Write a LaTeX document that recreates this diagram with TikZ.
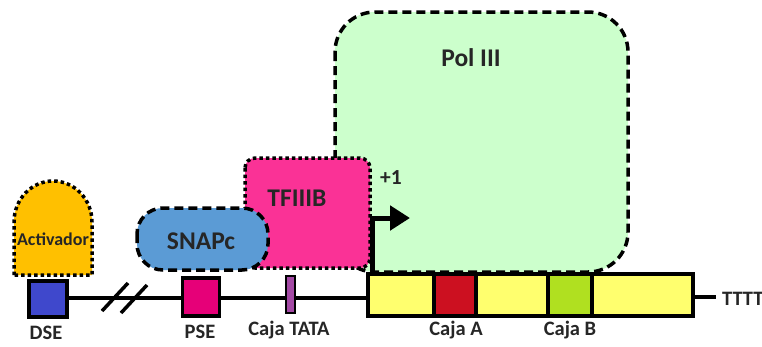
\documentclass[tikz,border=0pt]{standalone}
\usepackage{fontspec}
\setmainfont{Carlito}
\usetikzlibrary{arrows.meta}
\definecolor{polgreen}{RGB}{204,255,204}
\definecolor{tfpink}{RGB}{250,50,150}
\definecolor{snapblue}{RGB}{91,155,213}
\definecolor{actorange}{RGB}{255,192,0}
\definecolor{dseblue}{RGB}{63,72,204}
\definecolor{psepink}{RGB}{230,0,120}
\definecolor{tatapurple}{RGB}{163,73,164}
\definecolor{dnayellow}{RGB}{255,255,110}
\definecolor{boxared}{RGB}{204,16,32}
\definecolor{boxbgreen}{RGB}{176,224,32}
\tikzset{
  dashborder/.style={draw=black, line width=3.5pt, dash pattern=on 9pt off 5pt},
  dotborder/.style={draw=black, line width=3.5pt, dash pattern=on 3.5pt off 3pt},
  solidbox/.style={draw=black, line width=3.5pt},
  lbl/.style={font=\bfseries\fontsize{20.5}{22}\selectfont, text=black!85, inner sep=1pt},
  biglbl/.style={font=\bfseries\fontsize{25.5}{28}\selectfont, text=black!85},
  dnaline/.style={draw=black, line width=3.5pt}
}
\begin{document}
\begin{tikzpicture}[x=1pt,y=-1pt]
\useasboundingbox (0,0) rectangle (762,346);
% Pol III
\path[fill=polgreen, dashborder, rounded corners=40pt] (335,12) rectangle (628,272);
\node[biglbl] (pol) at (471,58) {Pol III};
% TFIIIB
\path[fill=tfpink, dotborder, rounded corners=10pt] (245,158) rectangle (370,268);
\node[biglbl] (tf) at (297,198) {TFIIIB};
% SNAPc
\path[fill=snapblue, dashborder, rounded corners=26pt] (137,208) rectangle (268,270);
\node[biglbl] (snap) at (201,241) {SNAPc};
% Activador
\path[fill=actorange, dotborder] (14,275) -- (14,222) arc[start angle=180, end angle=360, x radius=39, y radius=41] -- (92,275) -- cycle;
\node[lbl, font=\bfseries\fontsize{18}{20}\selectfont] (act) at (53,239) {Activador};
% +1 arrow
\coordinate (tss) at (372,272);
\coordinate (tssup) at (372,218);
\coordinate (tip) at (410,218);
\draw[line width=5pt, -{Triangle[length=20pt,width=24pt]}] (tss) -- (tssup) -- (tip);
\node[lbl, font=\bfseries\fontsize{21.5}{24}\selectfont] (plus) at (391,178) {+1};
% DNA line
\coordinate (lineL) at (68,298);
\coordinate (lineR) at (368,298);
\draw[dnaline] (lineL) -- (lineR);
\coordinate (s1a) at (102,311); \coordinate (s1b) at (128,283);
\coordinate (s2a) at (121,313); \coordinate (s2b) at (147,285);
\draw[line width=3.5pt] (s1a) -- (s1b);
\draw[line width=3.5pt] (s2a) -- (s2b);
% DSE
\node[solidbox, fill=dseblue, minimum width=38pt, minimum height=36pt, inner sep=0pt] (dse) at (48,299) {};
\node[lbl] (dsel) at (46,333) {DSE};
% PSE
\node[solidbox, fill=psepink, minimum width=37pt, minimum height=38pt, inner sep=0pt] (pse) at (201,297) {};
\node[lbl] (psel) at (200,332) {PSE};
% TATA
\node[draw=black, line width=2pt, fill=tatapurple, minimum width=9pt, minimum height=37pt, inner sep=0pt] (tata) at (290,294) {};
\node[lbl] (tatal) at (289,330) {Caja TATA};
% gene
\path[fill=dnayellow, solidbox] (368,274) rectangle (693,316);
\path[fill=boxared, solidbox] (434,274) rectangle (476,316);
\path[fill=boxbgreen, solidbox] (548,274) rectangle (592,316);
\node[lbl] (cajaa) at (456,330) {Caja A};
\node[lbl] (cajab) at (570,330) {Caja B};
\coordinate (endL) at (693,297);
\coordinate (endR) at (716,297);
\draw[dnaline] (endL) -- (endR);
\node[lbl, anchor=west, inner sep=0pt] (tttt) at (722,299) {TTTT};
\end{tikzpicture}
\end{document}
